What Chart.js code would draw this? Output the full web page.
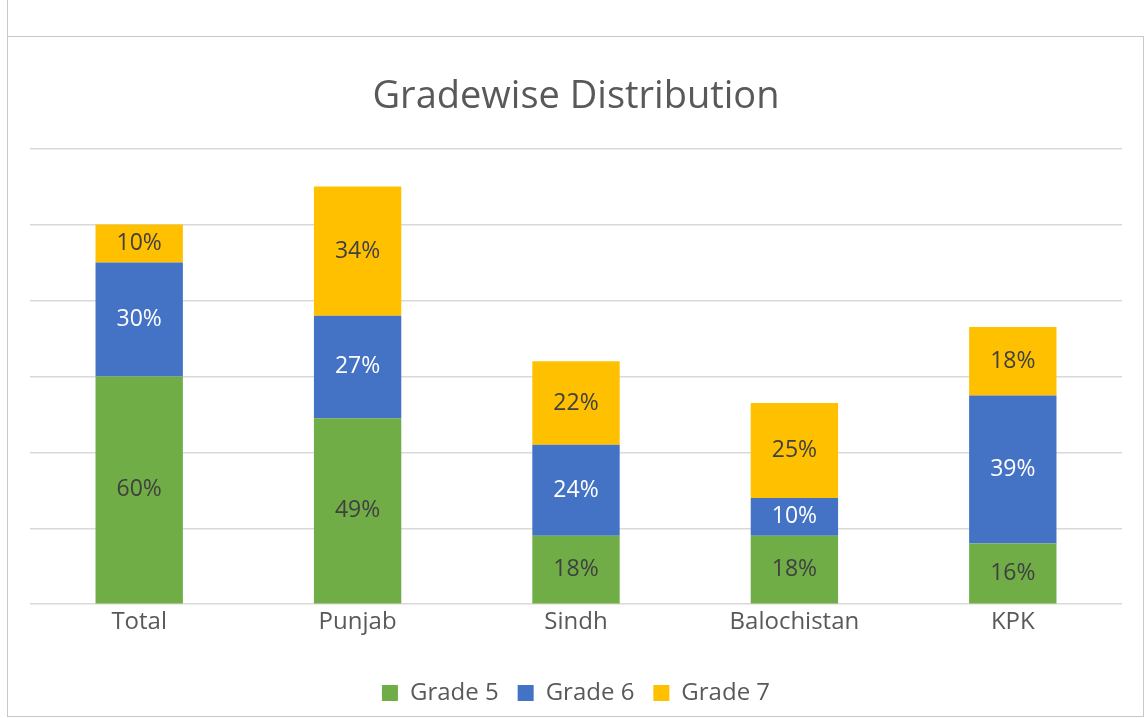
<!DOCTYPE html>
<html>
<head>
<meta charset="utf-8">
<script src="https://cdn.jsdelivr.net/npm/chart.js@4/dist/chart.umd.min.js"></script>
<style>
  html, body { margin: 0; padding: 0; background: #fff; }
  body { width: 1145px; height: 718px; position: relative; overflow: hidden; }
  .stub { position: absolute; left: 7px; top: 0; width: 1px; height: 37px; background: #c8c8c8; }
  .frame {
    position: absolute; left: 7px; top: 36px; width: 1137px; height: 681px;
    border: 1.5px solid #c8c8c8; box-sizing: border-box;
  }
  .frame canvas { position: absolute; left: 0; top: 0; }
</style>
</head>
<body>
<div class="stub"></div>
<div class="frame"><canvas id="chart" width="1134" height="678"></canvas></div>
<script>
// ── DATA ──
const regions = ['Total', 'Punjab', 'Sindh', 'Balochistan', 'KPK'];
const grade5 = [60, 49, 18, 18, 16];
const grade6 = [30, 27, 24, 10, 39];
const grade7 = [10, 34, 22, 25, 18];
const seriesNames = ['Grade 5', 'Grade 6', 'Grade 7'];

const FONT = "'Open Sans', sans-serif";
const TEXT = '#595959';

// ── IN-BAR PERCENT LABELS ──
const barLabels = {
  id: 'barLabels',
  afterDatasetsDraw(chart) {
    const ctx = chart.ctx;
    ctx.save();
    ctx.font = `23px ${FONT}`;
    ctx.textAlign = 'center';
    ctx.textBaseline = 'middle';
    chart.data.datasets.forEach((ds, i) => {
      const meta = chart.getDatasetMeta(i);
      meta.data.forEach((bar, j) => {
        ctx.fillStyle = ds.labelColor;
        ctx.fillText(ds.data[j] + '%', bar.x, (bar.y + bar.base) / 2);
      });
    });
    ctx.restore();
  }
};

const bar = (label, data, color, labelColor) => ({
  label, data,
  backgroundColor: color,
  borderWidth: 0,
  labelColor,
  categoryPercentage: 1,
  barPercentage: 0.4
});

new Chart(document.getElementById('chart'), {
  type: 'bar',
  data: {
    labels: regions,
    datasets: [
      bar(seriesNames[0], grade5, '#70AD47', '#404040'),
      bar(seriesNames[1], grade6, '#4472C4', '#ffffff'),
      bar(seriesNames[2], grade7, '#FFC000', '#404040')
    ]
  },
  options: {
    animation: false,
    responsive: false,
    layout: { padding: { left: 22, right: 20, top: 0, bottom: 0 } },
    plugins: {
      title: {
        display: true,
        text: 'Gradewise Distribution',
        color: TEXT,
        font: { family: FONT, size: 38, weight: 'normal' },
        padding: { top: 37, bottom: 29 }
      },
      legend: {
        position: 'bottom',
        labels: {
          color: TEXT,
          font: { family: FONT, size: 24 },
          boxWidth: 16,
          boxHeight: 16,
          padding: 19
        }
      },
      tooltip: { enabled: false }
    },
    scales: {
      x: {
        stacked: true,
        afterFit: s => { s.height += 21; },
        grid: { display: false, drawTicks: false },
        border: { display: false },
        ticks: { color: TEXT, font: { family: FONT, size: 24 }, padding: 4 }
      },
      y: {
        stacked: true,
        min: 0,
        max: 120,
        afterFit: s => { s.width = 0; },
        grid: { color: '#d9d9d9', lineWidth: 1.5, drawTicks: false },
        border: { display: false },
        ticks: { display: false, stepSize: 20 }
      }
    }
  },
  plugins: [barLabels]
});
</script>
</body>
</html>
